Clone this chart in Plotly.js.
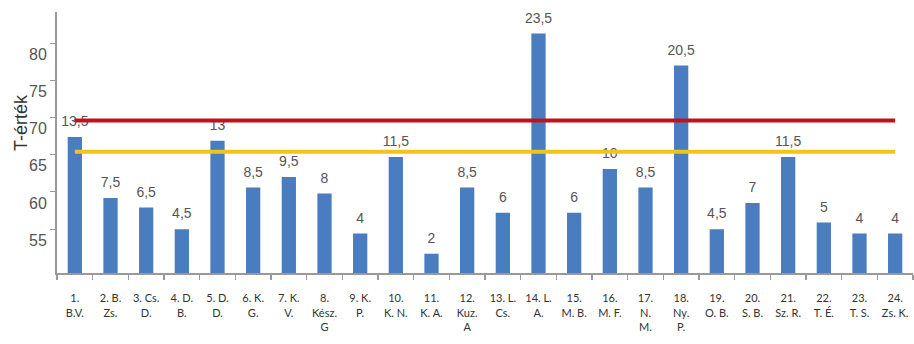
<!DOCTYPE html>
<html>
<head>
<meta charset="utf-8">
<script src="https://cdn.plot.ly/plotly-3.0.1.min.js"></script>
<style>html,body{margin:0;padding:0;background:#fff;}#chart{width:914px;height:344px;}</style>
</head>
<body>
<div id="chart"></div>
<script>
const categories = ["1.<br>B.V.","2. B.<br>Zs.","3. Cs.<br>D.","4. D.<br>B.","5. D.<br>D.","6. K.<br>G.","7. K.<br>V.","8.<br>Kész.<br>G","9. K.<br>P.","10.<br>K. N.","11.<br>K. A.","12.<br>Kuz.<br>A","13. L.<br>Cs.","14. L.<br>A.","15.<br>M. B.","16.<br>M. F.","17.<br>N.<br>M.","18.<br>Ny.<br>P.","19.<br>O. B.","20.<br>S. B.","21.<br>Sz. R.","22.<br>T. É.","23.<br>T. S.","24.<br>Zs. K."];
const tValues = [67.4,59.2,57.9,55.0,66.9,60.6,62.0,59.8,54.4,64.7,51.7,60.6,57.2,81.3,57.2,63.1,60.6,77.0,55.0,58.5,64.7,55.9,54.4,54.4];
const rawScores = ["13,5","7,5","6,5","4,5","13","8,5","9,5","8","4","11,5","2","8,5","6","23,5","6","10","8,5","20,5","4,5","7","11,5","5","4","4"];
const redLevel = 69.6;
const yellowLevel = 65.4;
const yTicks = [55,60,65,70,75,80];
const yTitle = 'T-érték';

const traces = [
  {type:'bar', x:categories, y:tValues, marker:{color:'#4a7dc0'}, hoverinfo:'skip', showlegend:false},
  {type:'scatter', mode:'markers+text', x:categories, y:tValues, text:rawScores, textposition:'top center',
   marker:{size:10, opacity:0}, textfont:{family:'Liberation Sans, Arial, sans-serif', size:14, color:'#555'},
   cliponaxis:false, hoverinfo:'skip', showlegend:false},
  {type:'scatter', mode:'lines', x:[categories[0], categories[categories.length-1]], y:[redLevel, redLevel],
   line:{color:'#c0121c', width:4}, hoverinfo:'skip', showlegend:false},
  {type:'scatter', mode:'lines', x:[categories[0], categories[categories.length-1]], y:[yellowLevel, yellowLevel],
   line:{color:'#f2c41a', width:4}, hoverinfo:'skip', showlegend:false}
];

const layout = {
  width:914, height:344,
  margin:{l:57, r:1, t:12, b:71},
  paper_bgcolor:'#fff', plot_bgcolor:'#fff',
  bargap:0.6,
  font:{family:'Liberation Sans, Arial, sans-serif', color:'#444'},
  xaxis:{type:'category', range:[-0.5, categories.length-0.5], automargin:false, showline:true, linecolor:'#999', linewidth:2, ticks:'outside', tickson:'boundaries',
    ticklen:5, tickcolor:'#999', tickwidth:1.5, showgrid:false, zeroline:false, tickangle:0, ticklabelstandoff:14,
    tickfont:{family:'Lato, Open Sans, sans-serif', size:11, color:'#333'}},
  yaxis:{range:[49.1,84.2], automargin:false, tickvals:yTicks, showline:true, linecolor:'#999', linewidth:2, ticks:'outside',
    ticklen:5, tickcolor:'#999', showgrid:false, zeroline:false, ticklabelshift:11,
    tickfont:{family:'Liberation Sans, Arial, sans-serif', size:16, color:'#555'}},
  annotations:[{text:yTitle, xref:'paper', yref:'paper', x:-0.042, y:0.575, xanchor:'center', yanchor:'middle',
    textangle:-90, showarrow:false, font:{family:'Liberation Sans, Arial, sans-serif', size:18, color:'#333'}}]
};

Plotly.newPlot('chart', traces, layout, {staticPlot:true, displayModeBar:false});
</script>
</body>
</html>
